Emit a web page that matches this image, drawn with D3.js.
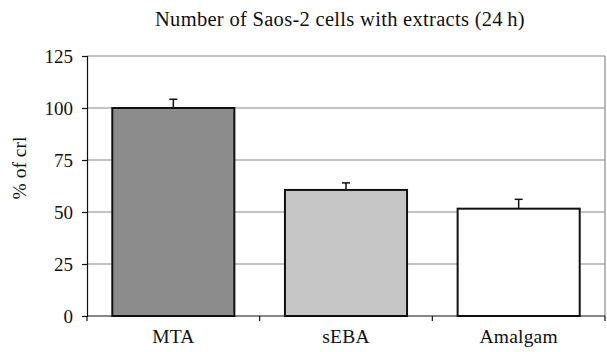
<!DOCTYPE html>
<html>
<head>
<meta charset="utf-8">
<script src="https://cdn.jsdelivr.net/npm/d3@7"></script>
<style>
  html, body { margin: 0; padding: 0; background: #fff; }
  svg text { font-family: "Liberation Serif", "Times New Roman", serif; fill: #111; }
</style>
</head>
<body>
<svg id="chart" width="607" height="352"></svg>
<script>
// Cell counts relative to control, after 24 h with extracts
const categories = ["MTA", "sEBA", "Amalgam"];
const values = [100, 60.6, 51.6];
const errors = [4.2, 3.4, 4.5];
const fills = ["#8c8c8c", "#c6c6c6", "#ffffff"];
const yTicks = [0, 25, 50, 75, 100, 125];

const FONT = "'Liberation Serif', 'Times New Roman', serif";
const svg = d3.select("#chart");
const margin = { top: 56, right: 2, bottom: 36, left: 87 };
const W = 607, H = 352;
const iw = W - margin.left - margin.right;
const ih = H - margin.top - margin.bottom;

const g = svg.append("g").attr("transform", `translate(${margin.left},${margin.top})`);

const x = d3.scaleBand().domain(categories).range([0, iw]).paddingInner(0.293).paddingOuter(0.1465);
const y = d3.scaleLinear().domain([0, 125]).range([ih, 0]);

// horizontal gridlines
g.selectAll("line.grid").data(yTicks.filter(t => t > 0)).join("line")
  .attr("class", "grid")
  .attr("x1", 0).attr("x2", iw)
  .attr("y1", d => y(d)).attr("y2", d => y(d))
  .attr("stroke", "#8a8a8a").attr("stroke-width", 1.2);

// right border of plot area
g.append("line").attr("x1", iw).attr("x2", iw).attr("y1", 0).attr("y2", ih)
  .attr("stroke", "#8a8a8a").attr("stroke-width", 1.2);

// error bars (upper whisker only)
const eb = g.selectAll("g.err").data(categories).join("g").attr("class", "err");
eb.append("line")
  .attr("x1", d => x(d) + x.bandwidth() / 2).attr("x2", d => x(d) + x.bandwidth() / 2)
  .attr("y1", (d, i) => y(values[i])).attr("y2", (d, i) => y(values[i] + errors[i]))
  .attr("stroke", "#111").attr("stroke-width", 1.5);
eb.append("line")
  .attr("x1", d => x(d) + x.bandwidth() / 2 - 4).attr("x2", d => x(d) + x.bandwidth() / 2 + 4)
  .attr("y1", (d, i) => y(values[i] + errors[i])).attr("y2", (d, i) => y(values[i] + errors[i]))
  .attr("stroke", "#111").attr("stroke-width", 1.5);

// bars
g.selectAll("rect.bar").data(categories).join("rect")
  .attr("class", "bar")
  .attr("x", d => x(d)).attr("width", x.bandwidth())
  .attr("y", (d, i) => y(values[i])).attr("height", (d, i) => ih - y(values[i]))
  .attr("fill", (d, i) => fills[i])
  .attr("stroke", "#111").attr("stroke-width", 2);

// y axis
const yAxis = g.append("g")
  .call(d3.axisLeft(y).tickValues(yTicks).tickSize(5).tickPadding(9).tickFormat(d3.format("d")));
yAxis.attr("font-family", null).attr("font-size", null);
yAxis.select(".domain").attr("stroke", "#111").attr("stroke-width", 1.2);
yAxis.selectAll(".tick line").attr("stroke", "#111").attr("stroke-width", 1.2);
yAxis.selectAll(".tick text")
  .style("font-family", FONT).style("font-size", "19px").attr("fill", "#111");

// x axis: ticks at category boundaries
const xAxis = g.append("g").attr("transform", `translate(0,${ih})`);
xAxis.append("line").attr("x1", 0).attr("x2", iw).attr("stroke", "#111").attr("stroke-width", 1.2);
const step = x.step();
const bounds = d3.range(categories.length + 1).map(i => x(categories[0]) - x.paddingOuter() * step + i * step);
xAxis.selectAll("line.bt").data(bounds).join("line").attr("class", "bt")
  .attr("x1", d => d).attr("x2", d => d).attr("y1", 0).attr("y2", 5)
  .attr("stroke", "#111").attr("stroke-width", 1.2);
xAxis.selectAll("text").data(categories).join("text")
  .attr("x", d => x(d) + x.bandwidth() / 2).attr("y", 27)
  .attr("text-anchor", "middle")
  .style("font-family", FONT).style("font-size", "19.5px").style("letter-spacing", "0.2px")
  .text(d => d);

// y-axis title
svg.append("text")
  .attr("transform", `translate(26,168) rotate(-90)`)
  .attr("text-anchor", "middle")
  .style("font-family", FONT).style("font-size", "19.5px")
  .text("% of crl");

// chart title
svg.append("text")
  .attr("x", 340).attr("y", 26).attr("text-anchor", "middle")
  .style("font-family", FONT).style("font-size", "20.5px").style("letter-spacing", "0.3px")
  .text("Number of Saos-2 cells with extracts (24\u2009h)");
</script>
</body>
</html>
